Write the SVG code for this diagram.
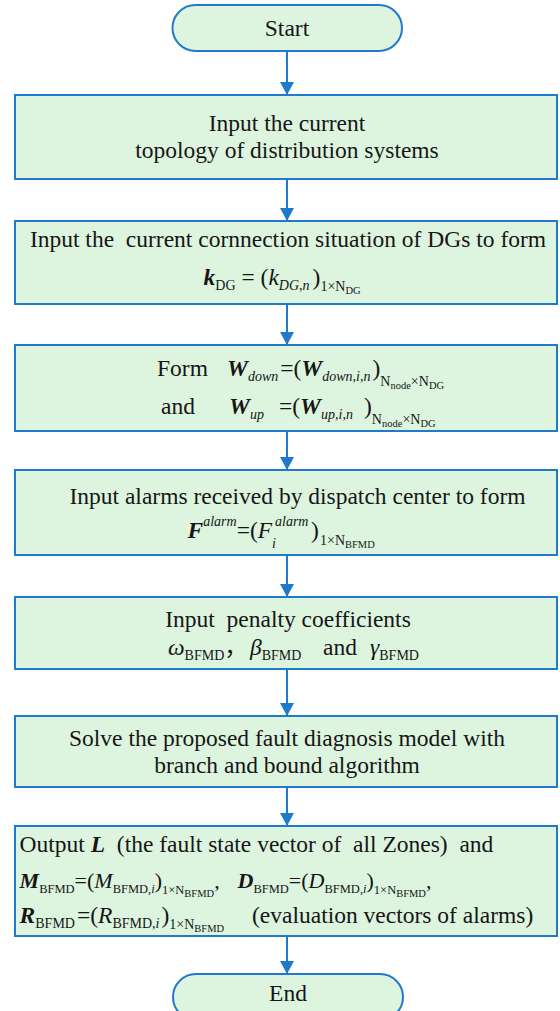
<svg xmlns="http://www.w3.org/2000/svg" width="560" height="1011" viewBox="0 0 560 1011">
<style>
.box{fill:#ddf4df;stroke:#1f7acb;stroke-width:2}
.conn{stroke:#1f7acb;stroke-width:2;fill:none;marker-end:url(#arr)}
text{font-family:"Liberation Serif","Times New Roman","Noto Sans CJK SC",serif;fill:#161616;font-size:23.5px}
.c{text-anchor:middle}
.i{font-style:italic}
.b{font-weight:bold;font-style:italic}
.s{font-size:14px}
.s2{font-size:12.5px}
.ss{font-size:10.5px}
.m2{font-size:22px}
</style>
<defs>
<marker id="arr" viewBox="0 0 13 14" refX="13" refY="7" markerWidth="13" markerHeight="14" markerUnits="userSpaceOnUse" orient="auto"><path d="M0,0 L13,7 L0,14 z" fill="#1f7acb"/></marker>
</defs>
<g id="connectors">
<line class="conn" x1="287" y1="51" x2="287" y2="95"/>
<line class="conn" x1="287" y1="179" x2="287" y2="221"/>
<line class="conn" x1="287" y1="304" x2="287" y2="345"/>
<line class="conn" x1="287" y1="431" x2="287" y2="470"/>
<line class="conn" x1="287" y1="555" x2="287" y2="597"/>
<line class="conn" x1="287" y1="669" x2="287" y2="716"/>
<line class="conn" x1="287" y1="787" x2="287" y2="826"/>
<line class="conn" x1="287" y1="936" x2="287" y2="974"/>
</g>
<g id="start">
<rect class="box" x="172.5" y="5" width="229.5" height="46" rx="23"/>
<text class="c" x="287" y="36">Start</text>
</g>
<g id="step1">
<rect class="box" x="15" y="95" width="542" height="84"/>
<text class="c" x="287" y="131">Input the current</text>
<text class="c" x="287" y="158">topology of distribution systems</text>
</g>
<g id="step2">
<rect class="box" x="15" y="221" width="542" height="83"/>
<text class="c" x="288" y="247" xml:space="preserve">Input the  current cornnection situation of DGs to form</text>
<text xml:space="preserve" x="203.6" y="285"><tspan class="b">k</tspan><tspan class="s" y="290">DG</tspan><tspan y="285"> = (</tspan><tspan class="i">k</tspan><tspan class="s i" y="290">DG,n</tspan><tspan dx="3" y="285">)</tspan><tspan class="s" y="291">1×N</tspan><tspan class="ss" y="294">DG</tspan></text>
</g>
<g id="step3">
<rect class="box" x="15" y="345" width="542" height="86"/>
<text x="157" y="376">Form</text>
<text x="227" y="376"><tspan class="b">W</tspan><tspan class="s i" y="381">down</tspan><tspan dx="2" y="376">=(</tspan><tspan class="b">W</tspan><tspan class="s i" y="381">down,i,n</tspan><tspan dx="2" y="376">)</tspan><tspan class="s" y="386">N</tspan><tspan class="ss" y="389">node</tspan><tspan class="s" y="386">×N</tspan><tspan class="ss" y="389">DG</tspan></text>
<text x="161" y="414">and</text>
<text x="229" y="414"><tspan class="b">W</tspan><tspan class="s i" y="419">up</tspan><tspan x="279" y="414">=(</tspan><tspan class="b">W</tspan><tspan class="s i" y="419">up,i,n</tspan><tspan x="364" y="414">)</tspan><tspan class="s" y="424">N</tspan><tspan class="ss" y="427">node</tspan><tspan class="s" y="424">×N</tspan><tspan class="ss" y="427">DG</tspan></text>
</g>
<g id="step4">
<rect class="box" x="15" y="470" width="542" height="85"/>
<text class="c" x="297.5" y="504">Input alarms received by dispatch center to form</text>
<text x="187.5" y="538"><tspan class="b">F</tspan><tspan class="s i" y="526">alarm</tspan><tspan y="538">=(</tspan><tspan class="i">F</tspan><tspan class="s i" y="548">i</tspan><tspan class="s i" x="275" y="526">alarm</tspan><tspan x="311" y="538">)</tspan><tspan class="s" x="320" y="545">1×N</tspan><tspan class="ss" y="548">BFMD</tspan></text>
</g>
<g id="step5">
<rect class="box" x="15" y="597" width="542" height="72"/>
<text class="c" x="288" y="627" xml:space="preserve">Input  penalty coefficients</text>
<text x="168" y="655"><tspan class="i">ω</tspan><tspan class="s" y="660">BFMD</tspan><tspan y="655">，</tspan><tspan class="i" x="250">β</tspan><tspan class="s" y="660">BFMD</tspan><tspan x="323" y="655">and</tspan><tspan class="i" x="370">γ</tspan><tspan class="s" y="660">BFMD</tspan></text>
</g>
<g id="step6">
<rect class="box" x="15" y="716" width="542" height="71"/>
<text class="c" x="287" y="746">Solve the proposed fault diagnosis model with</text>
<text class="c" x="287" y="773">branch and bound algorithm</text>
</g>
<g id="step7">
<rect class="box" x="15" y="826" width="542" height="110"/>
<text x="19.6" y="852" xml:space="preserve">Output <tspan class="b">L</tspan>  (the fault state vector of  all Zones)  and</text>
<text class="m2" x="19.6" y="888"><tspan class="b">M</tspan><tspan class="s2" y="893">BFMD</tspan><tspan y="888">=(</tspan><tspan class="i">M</tspan><tspan class="s2" y="893">BFMD,</tspan><tspan class="s2 i">i</tspan><tspan y="888">)</tspan><tspan class="s2" y="894">1×N</tspan><tspan class="ss" y="897">BFMD</tspan><tspan y="888">,</tspan><tspan class="b" x="237.5">D</tspan><tspan class="s2" y="893">BFMD</tspan><tspan y="888">=(</tspan><tspan class="i">D</tspan><tspan class="s2" y="893">BFMD,</tspan><tspan class="s2 i">i</tspan><tspan y="888">)</tspan><tspan class="s2" y="894">1×N</tspan><tspan class="ss" y="897">BFMD</tspan><tspan y="888">,</tspan></text>
<text x="19.6" y="923"><tspan class="b">R</tspan><tspan class="s" y="928">BFMD</tspan><tspan dx="2" y="923">=(</tspan><tspan class="i">R</tspan><tspan class="s" y="928">BFMD,</tspan><tspan class="s i">i</tspan><tspan dx="2" y="923">)</tspan><tspan class="s" y="929">1×N</tspan><tspan class="ss" y="932">BFMD</tspan><tspan x="252" y="923">(evaluation vectors of alarms)</tspan></text>
</g>
<g id="end">
<rect class="box" x="173" y="974" width="230" height="46" rx="23"/>
<text class="c" x="288" y="1001">End</text>
</g>
</svg>
